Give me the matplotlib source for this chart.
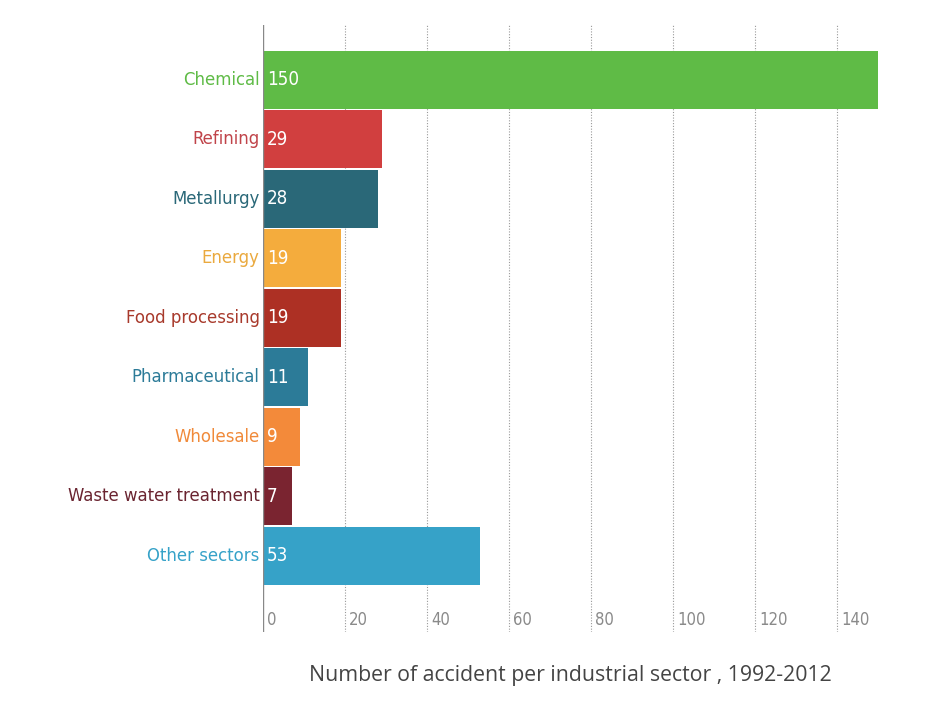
import matplotlib
matplotlib.use("Agg")
import matplotlib.pyplot as plt
from matplotlib.transforms import blended_transform_factory
from matplotlib import font_manager

categories = ["Chemical", "Refining", "Metallurgy", "Energy", "Food processing",
              "Pharmaceutical", "Wholesale", "Waste water treatment", "Other sectors"]
values = [150, 29, 28, 19, 19, 11, 9, 7, 53]
colors = ["#5fbb46", "#d13f3f", "#2a6878", "#f4ac3d", "#ad3024",
          "#2c7b98", "#f38a3a", "#7a2430", "#36a2c8"]
label_colors = ["#5fbb46", "#c0444a", "#2a6878", "#eaa93e", "#a83a2c",
                "#2c7b98", "#f08a3a", "#6a2430", "#36a2c8"]
xticks = [0, 20, 40, 60, 80, 100, 120, 140]
title = "Number of accident per industrial sector , 1992-2012"

names = {f.name for f in font_manager.fontManager.ttflist}
cond = [f for f in font_manager.fontManager.ttflist if "Condensed" in f.fname and "DejaVuSans" in f.fname]
if "Liberation Sans Narrow" in names:
    narrow_fp = dict(family=["Liberation Sans Narrow", "DejaVu Sans"])
elif cond:
    narrow_fp = dict(family=["DejaVu Sans"], fontstretch="condensed")
else:
    narrow_fp = dict(family=["DejaVu Sans"])

fig = plt.figure(figsize=(9.49, 7.10), dpi=100)
W, H = 949, 710
left, right, top, bottom = 263, 878, 25, 632
ax = fig.add_axes([left / W, 1 - bottom / H, (right - left) / W, (bottom - top) / H])

n = len(categories)
ys = list(range(n))
ax.barh(ys, values, height=0.97, color=colors, zorder=2)
ax.set_xlim(0, 150)
ax.set_ylim(n - 1 + 1.28, -0.92)

for x in xticks[1:]:
    ax.axvline(x, color="#999999", lw=0.8, ls=(0, (1, 1.5)), zorder=1)
ax.axvline(0, color="#888888", lw=1.0, zorder=3)

for s in ax.spines.values():
    s.set_visible(False)
ax.set_xticks([])
ax.set_yticks([])

trans = blended_transform_factory(ax.transData, ax.transAxes)
for x in xticks:
    ax.text(x + 1.0, 0.02, str(x), transform=trans, ha="left", va="center",
            fontsize=12, color="#8a8a8a", **narrow_fp)

for y, v, lab, lc in zip(ys, values, categories, label_colors):
    ax.text(-0.8, y, lab, ha="right", va="center", fontsize=13.2, color=lc,
            clip_on=False, **narrow_fp)
    ax.text(1.0, y, str(v), ha="left", va="center", fontsize=13.5, color="white",
            zorder=4, **narrow_fp)

fig.text(570 / W, 1 - 675 / H, title, ha="center", va="center", fontsize=15.3,
         color="#444444", family=["Open Sans", "DejaVu Sans"])

fig.savefig("out.png", dpi=100)
